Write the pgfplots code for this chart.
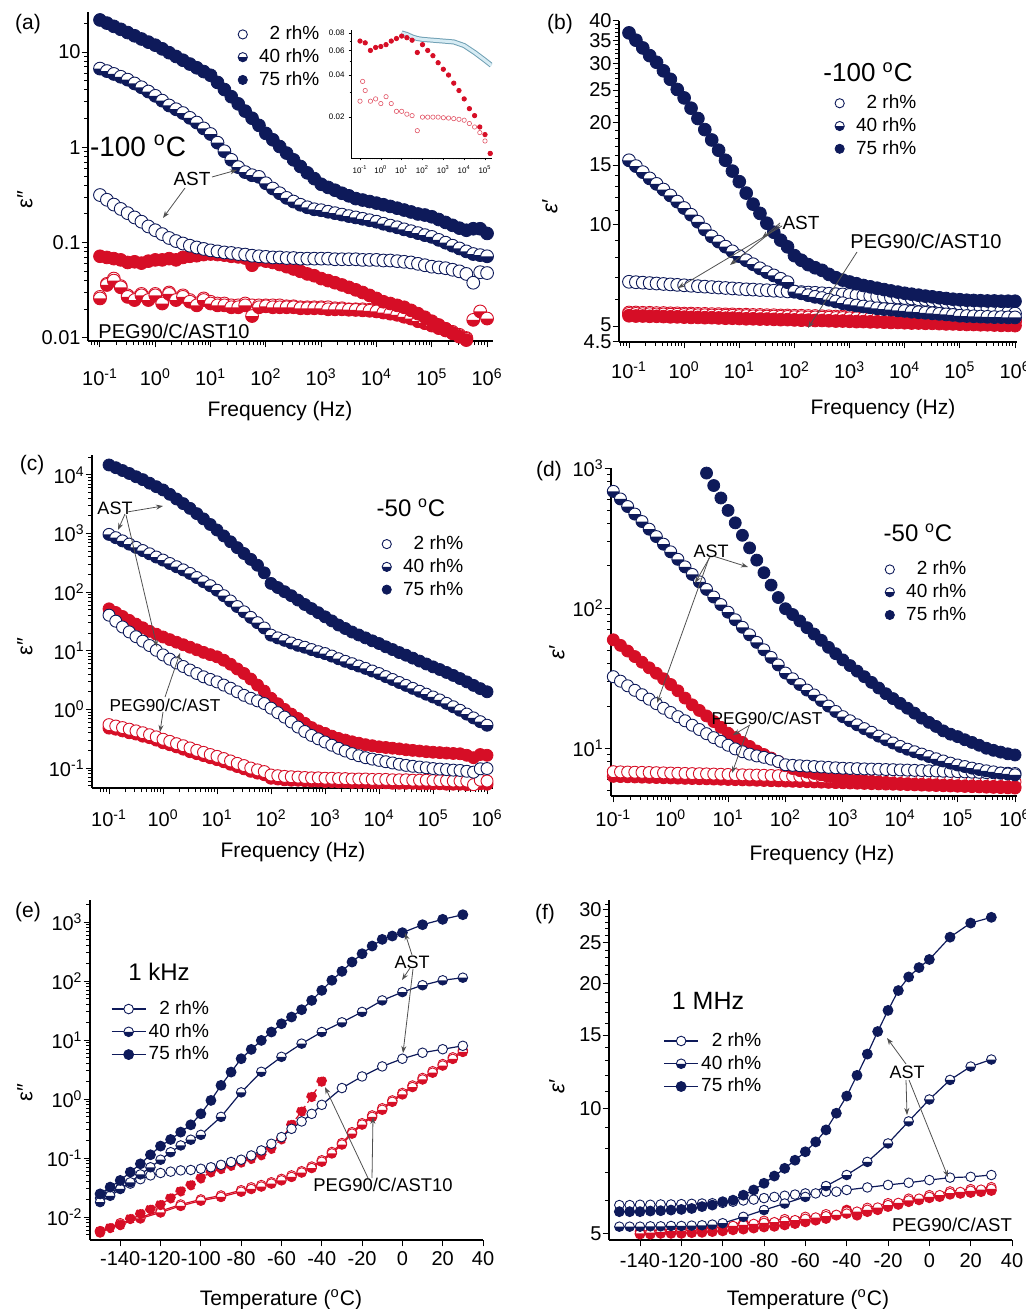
\documentclass[border=0pt]{standalone}
\usepackage{fontspec}
\setmainfont{Liberation Sans}
\usepackage{pgfplots}
\usepackage{pgfplotstable}
\pgfplotsset{compat=1.18}
\usetikzlibrary{arrows.meta}
\newcommand\fs[1]{\fontsize{#1}{#1}\selectfont}
\definecolor{navy}{RGB}{14,26,90}
\definecolor{pred}{RGB}{214,14,38}
\definecolor{lblue}{RGB}{140,200,225}
\definecolor{arrg}{RGB}{80,80,80}

\pgfdeclareplotmark{halfnavy}{%
  \pgfpathcircle{\pgfpointorigin}{\pgfplotmarksize}%
  \pgfsetfillcolor{white}\pgfusepathqfill
  \pgfpathmoveto{\pgfqpoint{-\pgfplotmarksize}{0pt}}%
  \pgfpatharc{180}{360}{\pgfplotmarksize}%
  \pgfpathclose
  \pgfsetfillcolor{navy}\pgfusepathqfill
  \pgfpathcircle{\pgfpointorigin}{\pgfplotmarksize}%
  \pgfusepathqstroke}
\pgfdeclareplotmark{halfred}{%
  \pgfpathcircle{\pgfpointorigin}{\pgfplotmarksize}%
  \pgfsetfillcolor{white}\pgfusepathqfill
  \pgfpathmoveto{\pgfqpoint{-\pgfplotmarksize}{0pt}}%
  \pgfpatharc{180}{360}{\pgfplotmarksize}%
  \pgfpathclose
  \pgfsetfillcolor{pred}\pgfusepathqfill
  \pgfpathcircle{\pgfpointorigin}{\pgfplotmarksize}%
  \pgfusepathqstroke}

\pgfplotsset{
  panel/.style={
    scale only axis, anchor=south west,
    axis x line*=bottom, axis y line*=left,
    axis line style={line width=0.6pt,-},
    tick align=outside,
    major tick length=3.2pt, minor tick length=2pt,
    every tick/.style={black,line width=0.5pt},
    tick label style={font=\fs{10}},
    legend style={draw=none,fill=none,font=\fs{9.5},nodes={inner sep=1.2pt},row sep=0.6pt},
    legend cell align=right,
  },
  mklegend/.style={legend image code/.code={\pgfpathrectangle{\pgfqpoint{-3pt}{-1pt}}{\pgfqpoint{10pt}{2pt}}\pgfusepath{use as bounding box}\draw plot coordinates {(0pt,0pt)};},
    legend image post style={mark size=2.3pt}},
  fminorx/.style={minor xtick={0.07,0.08,0.09,0.2,0.3,0.4,0.5,0.6,0.7,0.8,0.9,2,3,4,5,6,7,8,9,20,30,40,50,60,70,80,90,200,300,400,500,600,700,800,900,2000,3000,4000,5000,6000,7000,8000,9000,20000,30000,40000,50000,60000,70000,80000,90000,200000,300000,400000,500000,600000,700000,800000,900000}},
  nopen/.style={color=navy, only marks, mark=*, mark size=#1, mark options={fill=white,line width=0.45pt}},
  nhalf/.style={color=navy, only marks, mark=halfnavy, mark size=#1, mark options={line width=0.45pt}},
  nsolid/.style={color=navy, only marks, mark=*, mark size=#1},
  ropen/.style={color=pred, only marks, mark=*, mark size=#1, mark options={fill=white,line width=0.45pt}},
  rhalf/.style={color=pred, only marks, mark=halfred, mark size=#1, mark options={line width=0.45pt}},
  rsolid/.style={color=pred, only marks, mark=*, mark size=#1},
  Lnopen/.style={color=navy, line width=0.6pt, mark=*, mark size=2.4pt, mark options={fill=white,line width=0.45pt}},
  Lnhalf/.style={color=navy, line width=0.6pt, mark=halfnavy, mark size=2.4pt, mark options={line width=0.45pt}},
  Lnsolid/.style={color=navy, line width=0.6pt, mark=*, mark size=2.4pt},
  Lropen/.style={color=pred, line width=0.6pt, mark=*, mark size=2.4pt, mark options={fill=white,line width=0.45pt}},
  Lrhalf/.style={color=pred, line width=0.6pt, mark=halfred, mark size=2.4pt, mark options={line width=0.45pt}},
  Lrsolid/.style={color=pred, line width=0.6pt, mark=*, mark size=2.4pt},
}
\tikzset{arr/.style={draw=arrg, line width=0.4pt, -{Stealth[length=3.5pt,width=2.5pt]}}}

\begin{document}

\pgfplotstableread{
f o h s ro rh rs
0.1 0.316 6.70 21.7 0.027 0.026 0.072
0.1334 0.282 6.31 20.1 0.037 0.036 0.070
0.1778 0.251 5.89 18.6 0.042 0.040 0.068
0.2371 0.226 5.50 17.3 0.035 0.034 0.066
0.3162 0.204 5.13 16.0 0.028 0.027 0.062
0.4217 0.184 4.68 14.8 0.026 0.025 0.063
0.5623 0.166 4.27 13.7 0.029 0.028 0.061
0.7499 0.148 3.85 12.7 0.026 0.025 0.064
1 0.135 3.47 11.8 0.029 0.028 0.066
1.334 0.123 3.09 10.8 0.024 0.023 0.066
1.778 0.112 2.75 9.84 0.030 0.029 0.068
2.371 0.104 2.51 8.98 0.026 0.025 0.066
3.162 0.098 2.29 8.20 0.028 0.027 0.070
4.217 0.093 2.04 7.48 0.025 0.024 0.072
5.623 0.089 1.82 6.84 0.023 0.022 0.073
7.499 0.086 1.58 6.24 0.026 0.025 0.075
10 0.083 1.38 5.70 0.024 0.023 0.076
13.34 0.081 1.12 4.80 0.023 0.022 0.075
17.78 0.079 0.91 4.04 0.023 0.022 0.074
23.71 0.078 0.74 3.40 0.022 0.021 0.072
31.62 0.076 0.62 2.86 0.022 0.021 0.071
42.17 0.075 0.55 2.40 0.023 0.022 0.069
56.23 0.073 0.51 2.02 0.022 0.017 0.058
74.99 0.072 0.49 1.70 0.022 0.021 0.066
100 0.071 0.42 1.40 0.022 0.0215 0.064
133.4 0.070 0.37 1.20 0.022 0.021 0.062
177.8 0.070 0.33 1.02 0.022 0.021 0.059
237.1 0.069 0.295 0.87 0.0215 0.021 0.056
316.2 0.069 0.27 0.74 0.0215 0.021 0.053
421.7 0.068 0.25 0.63 0.021 0.0205 0.050
562.3 0.068 0.235 0.54 0.021 0.0205 0.047
749.9 0.068 0.224 0.47 0.021 0.0205 0.045
1000 0.068 0.219 0.41 0.021 0.0205 0.042
1334 0.068 0.211 0.38 0.021 0.020 0.040
1778 0.067 0.204 0.355 0.0205 0.020 0.038
2371 0.067 0.197 0.33 0.0205 0.020 0.036
3162 0.067 0.19 0.31 0.020 0.0198 0.034
4217 0.067 0.184 0.29 0.020 0.0197 0.032
5623 0.066 0.178 0.28 0.020 0.0195 0.030
7499 0.066 0.172 0.27 0.0198 0.0193 0.028
10000 0.066 0.166 0.26 0.0195 0.019 0.026
13340 0.065 0.158 0.25 0.019 0.0185 0.024
17780 0.065 0.151 0.24 0.0185 0.018 0.023
23710 0.064 0.145 0.23 0.018 0.0175 0.022
31620 0.063 0.138 0.22 0.0172 0.0167 0.021
42170 0.062 0.132 0.21 0.0165 0.016 0.0195
56230 0.060 0.126 0.20 0.0157 0.015 0.018
74990 0.058 0.120 0.195 0.0148 0.0143 0.0165
100000 0.056 0.115 0.187 0.014 0.0135 0.015
133400 0.055 0.107 0.175 0.0132 0.0127 0.0137
177800 0.054 0.100 0.163 0.0124 0.012 0.0125
237100 0.052 0.093 0.152 0.0116 0.0112 0.0113
316200 0.050 0.087 0.142 0.0108 0.0105 0.0103
421700 0.047 0.081 0.135 0.0100 0.0098 0.0095
562300 0.038 0.076 0.14 0.0088 0.0155 0.0087
749900 0.049 0.074 0.14 0.0087 0.019 0.0088
1000000 0.048 0.072 0.125 0.0086 0.016 0.0086
}\tabA

\pgfplotstableread{
f o h s ro rh rs
0.1 6.78 15.5 36.9 5.50 5.45 5.38
0.1334 6.76 14.9 35.1 5.50 5.45 5.37
0.1778 6.74 14.3 33.3 5.49 5.44 5.37
0.2371 6.72 13.7 31.6 5.49 5.44 5.36
0.3162 6.70 13.2 30.2 5.48 5.43 5.36
0.4217 6.68 12.7 28.5 5.48 5.43 5.35
0.5623 6.66 12.2 26.9 5.47 5.42 5.34
0.7499 6.64 11.7 25.1 5.47 5.42 5.34
1 6.62 11.2 23.7 5.46 5.41 5.33
1.334 6.60 10.7 22.1 5.46 5.41 5.32
1.778 6.58 10.2 20.6 5.45 5.40 5.32
2.371 6.56 9.68 19.1 5.45 5.40 5.31
3.162 6.54 9.23 17.8 5.44 5.39 5.31
4.217 6.52 8.91 16.6 5.44 5.39 5.30
5.623 6.50 8.61 15.5 5.43 5.38 5.29
7.499 6.48 8.34 14.4 5.43 5.38 5.29
10 6.46 8.07 13.4 5.42 5.37 5.28
13.34 6.44 7.85 12.4 5.42 5.37 5.27
17.78 6.43 7.64 11.5 5.41 5.36 5.27
23.71 6.41 7.43 10.8 5.41 5.36 5.26
31.62 6.40 7.24 10.1 5.40 5.35 5.26
42.17 6.38 7.08 9.5 5.40 5.35 5.25
56.23 6.37 6.92 9.0 5.39 5.34 5.24
74.99 6.35 6.76 8.6 5.39 5.34 5.24
100 6.34 6.34 8.1 5.38 5.33 5.23
133.4 6.32 6.27 7.85 5.38 5.33 5.22
177.8 6.30 6.19 7.62 5.37 5.32 5.22
237.1 6.29 6.12 7.46 5.37 5.32 5.21
316.2 6.27 6.07 7.33 5.36 5.31 5.21
421.7 6.25 6.00 7.13 5.36 5.31 5.20
562.3 6.23 5.93 6.97 5.35 5.30 5.19
749.9 6.22 5.86 6.86 5.35 5.30 5.19
1000 6.20 5.81 6.77 5.34 5.29 5.18
1334 6.18 5.77 6.69 5.34 5.29 5.17
1778 6.17 5.73 6.61 5.33 5.28 5.17
2371 6.15 5.70 6.55 5.33 5.28 5.16
3162 6.13 5.66 6.49 5.32 5.27 5.16
4217 6.12 5.63 6.43 5.32 5.27 5.15
5623 6.10 5.61 6.37 5.31 5.26 5.14
7499 6.09 5.58 6.32 5.31 5.26 5.14
10000 6.07 5.56 6.27 5.30 5.25 5.13
13340 6.05 5.53 6.23 5.30 5.25 5.12
17780 6.02 5.51 6.19 5.29 5.24 5.12
23710 6.00 5.49 6.15 5.29 5.24 5.11
31620 5.97 5.47 6.12 5.28 5.23 5.11
42170 5.94 5.45 6.08 5.28 5.23 5.10
56230 5.90 5.43 6.05 5.27 5.22 5.09
74990 5.87 5.41 6.02 5.27 5.22 5.09
100000 5.83 5.38 6.00 5.26 5.21 5.08
133400 5.78 5.37 5.98 5.26 5.21 5.07
177800 5.74 5.36 5.97 5.25 5.20 5.07
237100 5.69 5.35 5.96 5.25 5.20 5.06
316200 5.65 5.34 5.95 5.24 5.19 5.06
421700 5.60 5.33 5.95 5.24 5.19 5.05
562300 5.55 5.33 5.94 5.23 5.18 5.04
749900 5.50 5.32 5.94 5.23 5.18 5.04
1000000 5.46 5.32 5.94 5.22 5.17 5.03
}\tabB

\pgfplotstableread{
f o h s ro rh rs
0.1 40.5 968 14800 0.55 0.48 52
0.1334 32.0 851 13300 0.52 0.46 45
0.1778 25.5 750 11900 0.49 0.43 38.5
0.2371 21.0 661 10600 0.46 0.40 33
0.3162 17.4 582 9330 0.43 0.38 28.5
0.4217 14.6 513 8320 0.40 0.35 24.7
0.5623 12.3 452 7240 0.37 0.33 21.5
0.7499 10.2 398 6310 0.34 0.30 19.2
1 8.5 353 5550 0.31 0.27 17.2
1.334 7.2 309 4680 0.285 0.25 15.5
1.778 6.2 272 3890 0.26 0.23 14.0
2.371 5.4 240 3240 0.24 0.21 12.7
3.162 4.7 209 2690 0.22 0.19 11.5
4.217 4.1 178 2190 0.20 0.176 10.4
5.623 3.6 151 1780 0.185 0.163 9.4
7.499 3.25 129 1430 0.17 0.15 8.6
10 2.95 108 1150 0.158 0.139 7.9
13.34 2.6 87.1 912 0.145 0.128 6.9
17.78 2.3 70.8 724 0.132 0.116 5.9
23.71 2.0 56.9 575 0.12 0.106 4.9
31.62 1.74 46.2 457 0.11 0.097 4.1
42.17 1.55 37.2 363 0.10 0.088 3.3
56.23 1.4 30.2 288 0.093 0.082 2.6
74.99 1.26 24.5 214 0.087 0.077 2.05
100 1.05 18.5 141 0.076 0.067 1.55
133.4 0.88 16.6 120 0.074 0.065 1.25
177.8 0.74 15.1 102 0.072 0.063 1.0
237.1 0.61 13.6 87.1 0.071 0.062 0.83
316.2 0.50 12.4 73.3 0.070 0.062 0.70
421.7 0.42 11.5 61.7 0.069 0.061 0.58
562.3 0.36 10.5 52.5 0.068 0.060 0.49
749.9 0.315 9.66 44.7 0.068 0.060 0.43
1000 0.278 8.97 38.0 0.067 0.059 0.39
1334 0.245 8.13 32.4 0.067 0.059 0.35
1778 0.217 7.33 27.5 0.066 0.058 0.32
2371 0.195 6.61 24.0 0.066 0.058 0.30
3162 0.176 6.03 20.9 0.065 0.057 0.28
4217 0.162 5.50 18.6 0.065 0.057 0.265
5623 0.150 5.01 16.6 0.065 0.057 0.25
7499 0.142 4.52 14.8 0.064 0.056 0.24
10000 0.135 4.09 13.3 0.064 0.056 0.23
13340 0.128 3.63 11.7 0.064 0.056 0.224
17780 0.122 3.24 10.5 0.063 0.055 0.218
23710 0.116 2.88 9.33 0.063 0.055 0.212
31620 0.111 2.57 8.41 0.063 0.055 0.205
42170 0.107 2.29 7.50 0.062 0.055 0.20
56230 0.104 2.04 6.68 0.062 0.054 0.195
74990 0.101 1.82 5.96 0.062 0.054 0.19
100000 0.098 1.63 5.32 0.061 0.054 0.186
133400 0.096 1.45 4.79 0.061 0.054 0.183
177800 0.094 1.27 4.27 0.061 0.053 0.18
237100 0.092 1.11 3.80 0.060 0.053 0.177
316200 0.091 0.966 3.36 0.060 0.053 0.175
421700 0.088 0.832 2.95 0.060 0.052 0.165
562300 0.085 0.716 2.57 0.052 0.043 0.15
749900 0.097 0.617 2.26 0.062 0.054 0.17
1000000 0.098 0.537 2.0 0.060 0.053 0.165
}\tabC

\pgfplotstableread{
f o h s ro rh rs
0.1 32.4 681 nan 6.80 6.30 59.4
0.1334 30.1 601 nan 6.78 6.28 54.2
0.1778 27.9 531 nan 6.76 6.26 49.4
0.2371 25.9 469 nan 6.74 6.24 45.1
0.3162 24.1 415 nan 6.73 6.22 41.1
0.4217 22.4 366 nan 6.71 6.20 37.5
0.5623 20.8 324 nan 6.69 6.18 34.3
0.7499 19.3 286 nan 6.67 6.16 31.3
1 18.0 252 nan 6.65 6.14 28.5
1.334 16.8 223 nan 6.63 6.12 25.7
1.778 15.7 197 nan 6.61 6.10 22.8
2.371 14.6 174 nan 6.59 6.08 20.4
3.162 13.6 154 1060 6.58 6.06 18.6
4.217 12.7 136 920 6.56 6.05 17.0
5.623 11.9 120 750 6.54 6.03 15.5
7.499 11.2 106 611 6.52 6.01 14.1
10 10.5 93.5 498 6.50 5.99 12.8
13.34 9.89 82.6 406 6.48 5.97 11.9
17.78 9.44 73.0 331 6.46 5.95 11.0
23.71 9.08 64.5 269 6.44 5.93 10.3
31.62 8.81 57.0 220 6.43 5.91 9.55
42.17 8.61 50.4 179 6.41 5.89 9.02
56.23 8.36 44.5 146 6.39 5.87 8.51
74.99 8.04 39.3 119 6.37 5.85 8.04
100 7.62 34.4 99 6.35 5.83 7.50
133.4 7.55 31.3 90 6.33 5.81 7.16
177.8 7.50 28.5 81 6.31 5.79 6.92
237.1 7.45 26.0 72.5 6.29 5.77 6.76
316.2 7.40 24.0 65.3 6.28 5.75 6.61
421.7 7.35 21.9 58.9 6.26 5.73 6.46
562.3 7.30 20.0 52.5 6.24 5.71 6.31
749.9 7.25 18.3 47.3 6.22 5.69 6.17
1000 7.20 16.8 42.7 6.20 5.67 6.00
1334 7.17 15.7 38.9 6.18 5.65 5.95
1778 7.15 14.7 35.5 6.16 5.63 5.90
2371 7.12 13.8 32.4 6.14 5.61 5.85
3162 7.10 13.0 29.5 6.13 5.59 5.80
4217 7.08 12.2 26.9 6.11 5.57 5.75
5623 7.05 11.5 24.5 6.09 5.55 5.70
7499 7.03 10.9 22.6 6.07 5.54 5.65
10000 7.00 10.3 20.9 6.05 5.52 5.60
13340 6.98 9.84 19.3 6.03 5.50 5.58
17780 6.95 9.44 17.8 6.01 5.48 5.55
23710 6.93 9.08 16.4 5.99 5.46 5.53
31620 6.90 8.73 15.3 5.98 5.44 5.50
42170 6.88 8.41 14.3 5.96 5.42 5.48
56230 6.85 8.11 13.3 5.94 5.40 5.45
74990 6.83 7.83 12.6 5.92 5.38 5.43
100000 6.80 7.59 12.1 5.90 5.36 5.40
133400 6.78 7.40 11.5 5.88 5.34 5.39
177800 6.75 7.21 11.0 5.86 5.32 5.38
237100 6.73 7.05 10.5 5.84 5.30 5.36
316200 6.70 6.90 10.0 5.83 5.28 5.35
421700 6.68 6.78 9.66 5.81 5.26 5.34
562300 6.65 6.65 9.38 5.79 5.24 5.33
749900 6.63 6.55 9.12 5.77 5.22 5.31
1000000 6.60 6.46 8.95 5.75 5.20 5.30
}\tabD

\begin{tikzpicture}
\useasboundingbox (0pt,0pt) rectangle (512.5pt,-654.5pt);

% ---------------- (a)
\begin{axis}[panel, mklegend, fminorx, xmode=log, ymode=log, at={(44pt,-170.5pt)}, width=202.5pt, height=164.5pt,
  xmin=0.0607, xmax=1.28e6, ymin=0.0093, ymax=26.3,
  xtick={0.1,1,10,100,1000,10000,100000,1000000},
  xticklabels={10\textsuperscript{-1},10\textsuperscript{0},10\textsuperscript{1},10\textsuperscript{2},10\textsuperscript{3},10\textsuperscript{4},10\textsuperscript{5},10\textsuperscript{6}},
  ytick={0.01,0.1,1,10}, yticklabels={0.01,0.1,1,10},
  minor ytick={0.02,0.03,0.04,0.05,0.06,0.07,0.08,0.09,0.2,0.3,0.4,0.5,0.6,0.7,0.8,0.9,2,3,4,5,6,7,8,9,20},
  yticklabel style={xshift=3pt}, xticklabel style={yshift=-7pt},
  legend style={at={(0.593,0.978)}, anchor=north east}]
\addplot[ropen=3.2pt, forget plot] table[x=f,y=ro]{\tabA};
\addplot[rhalf=3.2pt, forget plot] table[x=f,y=rh]{\tabA};
\addplot[rsolid=3.2pt, forget plot] table[x=f,y=rs]{\tabA};
\addplot[nopen=3.2pt] table[x=f,y=o]{\tabA};
\addplot[nhalf=3.2pt] table[x=f,y=h]{\tabA};
\addplot[nsolid=3.2pt] table[x=f,y=s]{\tabA};
\legend{2 rh\%, 40 rh\%, 75 rh\%}
\end{axis}

% inset
\begin{axis}[panel, xmode=log, ymode=log, at={(175.5pt,-79pt)}, width=70.5pt, height=64pt,
  xmin=0.037, xmax=216800, ymin=0.0102, ymax=0.084,
  xtick={0.1,1,10,100,1000,10000,100000},
  xticklabels={10\textsuperscript{-1},10\textsuperscript{0},10\textsuperscript{1},10\textsuperscript{2},10\textsuperscript{3},10\textsuperscript{4},10\textsuperscript{5}},
  ytick={0.02,0.04,0.06,0.08}, yticklabels={0.02,0.04,0.06,0.08},
  minor ytick={0.03,0.05,0.07},
  tick label style={font=\fs{4}}, yticklabel style={xshift=1.5pt}, xticklabel style={yshift=1pt},
  major tick length=1.2pt, minor tick length=0.7pt,
  axis line style={line width=0.4pt,-}, every tick/.style={black,line width=0.3pt}]
\addplot[lblue!80!black, line width=0.5pt, double=lblue!35, double distance=1.5pt] coordinates {
(10,0.080)(17.78,0.078)(31.62,0.075)(56.23,0.073)(100,0.072)(316.2,0.071)(1000,0.070)(3162,0.069)(10000,0.065)(31620,0.058)(100000,0.051)(200000,0.047)};
\addplot[ropen=1.1pt, mark options={draw=pred!70,fill=white,line width=0.3pt}] coordinates {
(0.1,0.026)(0.1334,0.036)(0.1778,0.031)(0.3162,0.026)(0.5623,0.027)(1,0.025)(1.778,0.028)(3.162,0.025)(5.623,0.022)(10,0.022)(17.78,0.021)(31.62,0.0205)(56.23,0.016)(100,0.020)(177.8,0.020)(316.2,0.020)(562.3,0.020)(1000,0.0198)(1778,0.0197)(3162,0.0195)(5623,0.0193)(10000,0.019)(17780,0.018)(31620,0.017)(56230,0.0155)(100000,0.0135)(177800,0.011)};
\addplot[rsolid=1.1pt] coordinates {
(0.1,0.070)(0.1778,0.068)(0.3162,0.060)(0.5623,0.063)(1,0.064)(1.778,0.066)(3.162,0.070)(5.623,0.073)(10,0.076)(17.78,0.074)(31.62,0.071)(56.23,0.058)(100,0.066)(177.8,0.060)(316.2,0.055)(562.3,0.049)(1000,0.044)(1778,0.040)(3162,0.035)(5623,0.031)(10000,0.027)(17780,0.023)(31620,0.0205)(56230,0.017)(100000,0.015)(177800,0.011)};
\end{axis}

% ---------------- (b)
\begin{axis}[panel, mklegend, fminorx, xmode=log, ymode=log, at={(309.5pt,-171pt)}, width=199pt, height=160.5pt,
  xmin=0.0659, xmax=1.087e6, ymin=4.5, ymax=40,
  xtick={0.1,1,10,100,1000,10000,100000,1000000},
  xticklabels={10\textsuperscript{-1},10\textsuperscript{0},10\textsuperscript{1},10\textsuperscript{2},10\textsuperscript{3},10\textsuperscript{4},10\textsuperscript{5},10\textsuperscript{6}},
  ytick={4.5,5,10,15,20,25,30,35,40}, yticklabels={\raisebox{-2.5pt}{4.5},\raisebox{1.5pt}{5},10,15,20,25,30,35,40},
  minor ytick={6,7,8,9,11,12,13,14,16,17,18,19,21,22,23,24,26,27,28,29,31,32,33,34,36,37,38,39},
  yticklabel style={xshift=3pt}, xticklabel style={yshift=-3pt},
  legend style={at={(0.769,0.791)}, anchor=north east}]
\addplot[ropen=3.2pt, forget plot] table[x=f,y=ro]{\tabB};
\addplot[rhalf=3.2pt, forget plot] table[x=f,y=rh]{\tabB};
\addplot[rsolid=3.2pt, forget plot] table[x=f,y=rs]{\tabB};
\addplot[nopen=3.2pt] table[x=f,y=o]{\tabB};
\addplot[nhalf=3.2pt] table[x=f,y=h]{\tabB};
\addplot[nsolid=3.2pt] table[x=f,y=s]{\tabB};
\legend{2 rh\%, 40 rh\%, 75 rh\%}
\end{axis}

% ---------------- (c)
\begin{axis}[panel, mklegend, fminorx, xmode=log, ymode=log, at={(46pt,-394pt)}, width=200.5pt, height=166.5pt,
  xmin=0.0484, xmax=1.29e6, ymin=0.0456, ymax=21900,
  xtick={0.1,1,10,100,1000,10000,100000,1000000},
  xticklabels={10\textsuperscript{-1},10\textsuperscript{0},10\textsuperscript{1},10\textsuperscript{2},10\textsuperscript{3},10\textsuperscript{4},10\textsuperscript{5},10\textsuperscript{6}},
  ytick={0.1,1,10,100,1000,10000},
  yticklabels={10\textsuperscript{-1},10\textsuperscript{0},10\textsuperscript{1},10\textsuperscript{2},10\textsuperscript{3},10\textsuperscript{4}},
  minor ytick={0.05,0.06,0.07,0.08,0.09,0.2,0.3,0.4,0.5,0.6,0.7,0.8,0.9,2,3,4,5,6,7,8,9,20,30,40,50,60,70,80,90,200,300,400,500,600,700,800,900,2000,3000,4000,5000,6000,7000,8000,9000,20000},
  yticklabel style={xshift=3pt}, xticklabel style={yshift=-4pt},
  legend style={at={(0.948,0.778)}, anchor=north east}]
\addplot[rhalf=3.0pt, forget plot] table[x=f,y=rh]{\tabC};
\addplot[ropen=3.0pt, forget plot] table[x=f,y=ro]{\tabC};
\addplot[rsolid=3.0pt, forget plot] table[x=f,y=rs]{\tabC};
\addplot[nopen=3.0pt] table[x=f,y=o]{\tabC};
\addplot[nhalf=3.0pt] table[x=f,y=h]{\tabC};
\addplot[nsolid=3.0pt] table[x=f,y=s]{\tabC};
\legend{2 rh\%, 40 rh\%, 75 rh\%}
\end{axis}

% ---------------- (d)
\begin{axis}[panel, mklegend, fminorx, xmode=log, ymode=log, at={(305.5pt,-398pt)}, width=203pt, height=164pt,
  xmin=0.0912, xmax=1.084e6, ymin=4.56, ymax=1000,
  xtick={0.1,1,10,100,1000,10000,100000,1000000},
  xticklabels={10\textsuperscript{-1},10\textsuperscript{0},10\textsuperscript{1},10\textsuperscript{2},10\textsuperscript{3},10\textsuperscript{4},10\textsuperscript{5},10\textsuperscript{6}},
  ytick={10,100,1000},
  yticklabels={10\textsuperscript{1},10\textsuperscript{2},10\textsuperscript{3}},
  minor ytick={5,6,7,8,9,20,30,40,50,60,70,80,90,200,300,400,500,600,700,800,900},
  yticklabel style={xshift=3pt},
  legend style={at={(0.897,0.737)}, anchor=north east}]
\addplot[rhalf=3.0pt, forget plot] table[x=f,y=rh]{\tabD};
\addplot[ropen=3.0pt, forget plot] table[x=f,y=ro]{\tabD};
\addplot[rsolid=3.0pt, forget plot] table[x=f,y=rs]{\tabD};
\addplot[nopen=3.0pt] table[x=f,y=o]{\tabD};
\addplot[nhalf=3.0pt] table[x=f,y=h]{\tabD};
\addplot[nsolid=3.0pt] table[x=f,y=s]{\tabD};
\legend{2 rh\%, 40 rh\%, 75 rh\%}
\end{axis}

% ---------------- (e)
\begin{axis}[panel, ymode=log, at={(45pt,-620pt)}, width=196.5pt, height=170pt,
  xmin=-155, xmax=40, ymin=0.0041, ymax=2360,
  xtick={-140,-120,-100,-80,-60,-40,-20,0,20,40},
  xticklabels={-140,-120,-100,-80,-60,-40,-20,0,20,40},
  ytick={0.01,0.1,1,10,100,1000},
  yticklabels={10\textsuperscript{-2},10\textsuperscript{-1},10\textsuperscript{0},10\textsuperscript{1},10\textsuperscript{2},10\textsuperscript{3}},
  minor ytick={0.005,0.006,0.007,0.008,0.009,0.02,0.03,0.04,0.05,0.06,0.07,0.08,0.09,0.2,0.3,0.4,0.5,0.6,0.7,0.8,0.9,2,3,4,5,6,7,8,9,20,30,40,50,60,70,80,90,200,300,400,500,600,700,800,900,2000},
  yticklabel style={xshift=3pt}, xticklabel style={yshift=1pt},
  legend style={at={(0.325,0.724)}, anchor=north east}]
\addplot[Lropen, forget plot] coordinates {(-150,0.0058)(-140,0.0079)(-130,0.010)(-120,0.0127)(-110,0.0164)(-100,0.020)(-90,0.0233)(-80,0.0286)(-75,0.032)(-70,0.035)(-65,0.039)(-60,0.0445)(-55,0.051)(-50,0.060)(-45,0.072)(-40,0.092)(-35,0.127)(-30,0.18)(-25,0.275)(-20,0.39)(-15,0.53)(-10,0.70)(-5,0.95)(0,1.27)(5,1.70)(10,2.28)(15,2.97)(20,3.92)(25,5.1)(30,6.7)};
\addplot[Lrhalf, forget plot] coordinates {(-150,0.0055)(-140,0.0075)(-130,0.0095)(-120,0.012)(-110,0.0155)(-100,0.019)(-90,0.022)(-80,0.027)(-75,0.030)(-70,0.033)(-65,0.037)(-60,0.042)(-55,0.048)(-50,0.057)(-45,0.068)(-40,0.087)(-35,0.12)(-30,0.17)(-25,0.26)(-20,0.37)(-15,0.50)(-10,0.66)(-5,0.90)(0,1.20)(5,1.60)(10,2.15)(15,2.80)(20,3.70)(25,4.80)(30,6.30)};
\addplot[Lrsolid, densely dashed, forget plot] coordinates {(-150,0.0058)(-145,0.0066)(-140,0.0074)(-135,0.0094)(-130,0.0114)(-125,0.0135)(-120,0.0162)(-115,0.021)(-110,0.0276)(-105,0.035)(-100,0.0457)(-95,0.058)(-90,0.066)(-85,0.075)(-80,0.085)(-75,0.098)(-70,0.113)(-65,0.145)(-60,0.21)(-55,0.37)(-50,0.62)(-45,1.1)(-40,2.0)};
\addplot[Lnopen] coordinates {(-150,0.021)(-145,0.026)(-140,0.031)(-135,0.037)(-130,0.044)(-125,0.051)(-120,0.056)(-115,0.059)(-110,0.062)(-105,0.063)(-100,0.066)(-95,0.070)(-90,0.077)(-85,0.086)(-80,0.094)(-75,0.111)(-70,0.135)(-65,0.175)(-60,0.227)(-55,0.314)(-50,0.418)(-45,0.563)(-40,0.80)(-30,1.54)(-20,2.42)(-10,3.58)(0,4.83)(10,6.1)(20,7.0)(30,8.0)};
\addplot[Lnhalf] coordinates {(-150,0.018)(-145,0.023)(-140,0.030)(-135,0.039)(-130,0.053)(-125,0.070)(-120,0.094)(-115,0.126)(-110,0.164)(-105,0.205)(-100,0.248)(-90,0.50)(-80,1.3)(-70,2.9)(-60,5.2)(-50,8.7)(-40,13.7)(-30,20)(-20,30)(-10,47)(0,65)(10,85)(20,103)(30,114)};
\addplot[Lnsolid] coordinates {(-150,0.0248)(-145,0.0323)(-140,0.0419)(-135,0.058)(-130,0.080)(-125,0.114)(-120,0.16)(-115,0.207)(-110,0.276)(-105,0.367)(-100,0.564)(-95,0.95)(-90,1.71)(-85,2.87)(-80,4.83)(-75,6.95)(-70,9.87)(-65,13.7)(-60,18.9)(-55,24.6)(-50,32.7)(-45,47)(-40,69.5)(-35,103)(-30,146)(-25,210)(-20,290)(-15,392)(-10,508)(-5,579)(0,660)(10,900)(20,1110)(30,1330)};
\legend{2 rh\%, 40 rh\%, 75 rh\%}
\end{axis}

% ---------------- (f)
\begin{axis}[panel, ymode=log, at={(304.5pt,-620pt)}, width=201.5pt, height=170pt,
  xmin=-155, xmax=40, ymin=4.82, ymax=31.7,
  xtick={-140,-120,-100,-80,-60,-40,-20,0,20,40},
  xticklabels={-140,-120,-100,-80,-60,-40,-20,0,20,40},
  ytick={5,10,15,20,25,30}, yticklabels={5,10,15,20,25,30},
  minor ytick={6,7,8,9,11,12,13,14,16,17,18,19,21,22,23,24,26,27,28,29,31},
  yticklabel style={xshift=3pt},
  legend style={at={(0.400,0.630)}, anchor=north east}]
\addplot[Lrsolid, forget plot] coordinates {(-140,4.98)(-135,4.98)(-130,5.00)(-125,5.00)(-120,5.00)(-115,5.02)(-110,5.03)(-105,5.05)(-100,5.07)(-95,5.10)(-90,5.12)(-85,5.15)(-80,5.18)(-75,5.20)(-70,5.24)(-65,5.28)(-60,5.33)(-55,5.38)(-50,5.43)(-45,5.53)(-40,5.69)(-35,5.53)(-30,5.64)(-25,5.70)(-20,5.80)(-15,5.87)(-10,5.96)(-5,6.02)(0,6.09)(5,6.13)(10,6.21)(15,6.24)(20,6.27)(25,6.30)(30,6.34)};
\addplot[Lropen, forget plot] coordinates {(-140,5.06)(-130,5.10)(-120,5.14)(-110,5.19)(-100,5.25)(-90,5.30)(-80,5.36)(-70,5.41)(-60,5.48)(-50,5.56)(-40,5.64)(-30,5.76)(-20,5.91)(-10,6.06)(0,6.18)(10,6.31)(20,6.39)(30,6.46)};
\addplot[Lrhalf, forget plot] coordinates {(-140,5.00)(-135,5.02)(-130,5.04)(-125,5.06)(-120,5.08)(-115,5.10)(-110,5.13)(-105,5.16)(-100,5.19)(-95,5.21)(-90,5.24)(-85,5.27)(-80,5.30)(-75,5.32)(-70,5.35)(-65,5.38)(-60,5.42)(-55,5.46)(-50,5.50)(-45,5.54)(-40,5.58)(-35,5.64)(-30,5.70)(-25,5.77)(-20,5.85)(-15,5.92)(-10,6.00)(-5,6.06)(0,6.12)(5,6.18)(10,6.25)(15,6.29)(20,6.33)(25,6.37)(30,6.40)};
\addplot[Lnopen] coordinates {(-150,5.85)(-145,5.85)(-140,5.86)(-135,5.86)(-130,5.87)(-125,5.87)(-120,5.88)(-115,5.89)(-110,5.90)(-105,5.91)(-100,5.92)(-95,5.96)(-90,6.00)(-85,6.03)(-80,6.08)(-75,6.12)(-70,6.16)(-65,6.20)(-60,6.24)(-55,6.24)(-50,6.30)(-45,6.30)(-40,6.36)(-30,6.45)(-20,6.54)(-10,6.62)(0,6.72)(10,6.81)(20,6.84)(30,6.91)};
\addplot[Lnhalf] coordinates {(-150,5.19)(-145,5.19)(-140,5.19)(-135,5.20)(-130,5.20)(-125,5.21)(-120,5.21)(-115,5.22)(-110,5.23)(-105,5.25)(-100,5.29)(-90,5.48)(-80,5.69)(-70,5.90)(-60,6.12)(-50,6.50)(-40,6.91)(-30,7.43)(-20,8.23)(-10,9.30)(0,10.5)(10,11.7)(20,12.6)(30,13.1)};
\addplot[Lnsolid] coordinates {(-150,5.64)(-145,5.64)(-140,5.64)(-135,5.66)(-130,5.67)(-125,5.69)(-120,5.71)(-115,5.74)(-110,5.80)(-105,5.85)(-100,5.96)(-95,6.01)(-90,6.18)(-85,6.36)(-80,6.60)(-75,6.87)(-70,7.17)(-65,7.50)(-60,7.86)(-55,8.3)(-50,8.87)(-45,9.73)(-40,10.7)(-35,12.0)(-30,13.5)(-25,15.3)(-20,17.2)(-15,19.2)(-10,20.7)(-5,21.8)(0,22.8)(10,25.8)(20,27.9)(30,28.8)};
\legend{2 rh\%, 40 rh\%, 75 rh\%}
\end{axis}

% ---------------- annotations (pixel coordinates)
\begin{scope}[x=0.5pt,y=-0.5pt]
\node[font=\fs{10.5}] at (28,24) {(a)};
\node[font=\fs{14}] at (138,146) {-100 \textsuperscript{o}C};
\node[font=\fs{9.5}] at (192,179) {AST};
\draw[arr] (212,177) -- (237,170);
\draw[arr] (185,188) -- (163,218);
\node[font=\fs{10}] at (174,331) {PEG90/C/AST10};
\node[font=\fs{11},rotate=90] at (25,200) {ε″};
\node[font=\fs{10.5}] at (280,411) {Frequency (Hz)};
\node[font=\fs{10.5}] at (560,24) {(b)};
\node[font=\fs{13}] at (868,72) {-100 \textsuperscript{o}C};
\node[font=\fs{9.5}] at (801,223) {AST};
\draw[arr] (780,223) -- (762,238);
\draw[arr] (780,225) -- (730,265);
\draw[arr] (782,226) -- (678,288);
\node[font=\fs{10}] at (926,241) {PEG90/C/AST10};
\draw[arr] (857,252) -- (808,328);
\node[font=\fs{11},rotate=90] at (550,207) {\itshape ε′};
\node[font=\fs{10.5}] at (883,409) {Frequency (Hz)};
\node[font=\fs{10.5}] at (32,465) {(c)};
\node[font=\fs{12}] at (411,508) {-50 \textsuperscript{o}C};
\node[font=\fs{9}] at (115,508) {AST};
\draw[arr] (127,512) -- (163,506);
\draw[arr] (125,514) -- (118,530);
\draw[arr] (126,515) -- (157,647);
\node[font=\fs{8.6}] at (165,705) {PEG90/C/AST};
\draw[arr] (165,697) -- (180,653);
\draw[arr] (163,712) -- (160,732);
\node[font=\fs{11},rotate=90] at (25,647) {ε″};
\node[font=\fs{10.5}] at (293,852) {Frequency (Hz)};
\node[font=\fs{10.5}] at (549,471) {(d)};
\node[font=\fs{12}] at (918,533) {-50 \textsuperscript{o}C};
\node[font=\fs{9}] at (711,551) {AST};
\draw[arr] (713,556) -- (748,567);
\draw[arr] (710,557) -- (695,583);
\draw[arr] (709,558) -- (657,703);
\node[font=\fs{8.6}] at (767,718) {PEG90/C/AST};
\draw[arr] (750,725) -- (733,735);
\draw[arr] (749,726) -- (732,773);
\node[font=\fs{11},rotate=90] at (557,653) {\itshape ε′};
\node[font=\fs{10.5}] at (822,855) {Frequency (Hz)};
\node[font=\fs{10.5}] at (28,912) {(e)};
\node[font=\fs{12}] at (159,972) {1 kHz};
\node[font=\fs{9}] at (412,962) {AST};
\draw[arr] (412,955) -- (405,933);
\draw[arr] (410,968) -- (402,980);
\draw[arr] (413,969) -- (403,1053);
\node[font=\fs{9.2}] at (383,1185) {PEG90/C/AST10};
\draw[arr] (368,1178) -- (325,1087);
\draw[arr] (372,1178) -- (373,1117);
\node[font=\fs{11},rotate=90] at (25,1093) {ε″};
\node[font=\fs{10.5}] at (281,1300) {Temperature (\textsuperscript{o}C)};
\node[font=\fs{10.5}] at (545,914) {(f)};
\node[font=\fs{12.5}] at (708,1001) {1 MHz};
\node[font=\fs{9}] at (907,1072) {AST};
\draw[arr] (906,1064) -- (887,1038);
\draw[arr] (906,1080) -- (907,1115);
\draw[arr] (909,1080) -- (948,1177);
\node[font=\fs{9.3}] at (952,1225) {PEG90/C/AST};
\node[font=\fs{11},rotate=90] at (557,1087) {\itshape ε′};
\node[font=\fs{10.5}] at (808,1300) {Temperature (\textsuperscript{o}C)};
\end{scope}
\end{tikzpicture}
\end{document}
